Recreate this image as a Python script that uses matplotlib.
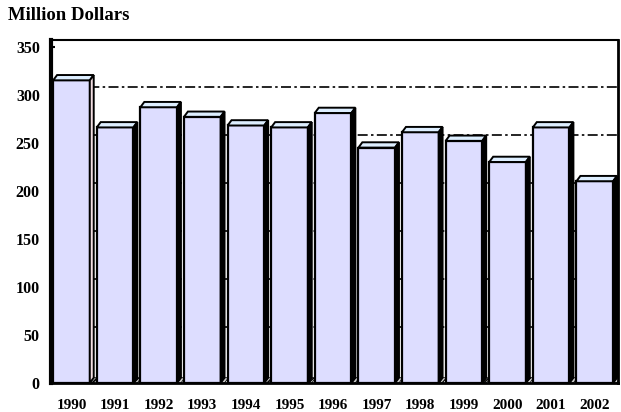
import matplotlib
matplotlib.use("Agg")
import matplotlib.pyplot as plt
import matplotlib.transforms as mtransforms
from matplotlib.patches import Polygon

years = ["1990", "1991", "1992", "1993", "1994", "1995", "1996",
         "1997", "1998", "1999", "2000", "2001", "2002"]
values = [315, 266, 287, 277, 268, 266, 281, 245, 261, 252, 230, 266, 210]
yticks = [0, 50, 100, 150, 200, 250, 300, 350]
ylabel = "Million Dollars"

plt.rcParams['font.family'] = ['Liberation Serif', 'DejaVu Serif']
plt.rcParams['font.weight'] = 'bold'

fig = plt.figure(figsize=(6.21, 4.12), dpi=100)
ax = fig.add_axes([0.0821, 0.0704, 0.9129, 0.8326])

n = len(values)
xs = list(range(n))
width = 0.84
dx = 0.09   # depth in x (data units)
dy = 5.5    # depth in y (data units)

ax.set_xlim(-0.47, n - 1 + 0.53)
ax.set_ylim(0, 357)

# back-wall gridlines (offset upward for 3D depth)
off = mtransforms.offset_copy(ax.get_yaxis_transform(), fig=fig, x=0, y=8, units='dots')
for v in yticks[1:-1]:
    ax.plot([0, 1], [v, v], transform=off, color='black', lw=1.2,
            linestyle=(0, (6, 2, 1.5, 2)), zorder=1, clip_on=False)

bars = ax.bar(xs, values, width=width, color='#DDDDFF', edgecolor='black',
              linewidth=1.6, zorder=3)

for i, (x, v) in enumerate(zip(xs, values)):
    left = x - width / 2
    right = x + width / 2
    top = Polygon([[left, v], [left + dx, v + dy], [right + dx, v + dy], [right, v]],
                  closed=True, facecolor='#DDEEFF', edgecolor='black', lw=1.4, zorder=4)
    ax.add_patch(top)
    side_color = '#F2DDE2' if i == 0 else 'black'
    side = Polygon([[right, 0], [right + dx, dy], [right + dx, v + dy], [right, v]],
                   closed=True, facecolor=side_color, edgecolor='black', lw=1.4, zorder=4)
    ax.add_patch(side)
    floor = Polygon([[right, 0], [right + dx, dy], [right + 2 * dx, dy], [right + dx, 0]],
                    closed=True, facecolor='#CCCCCC', edgecolor='black', lw=0.6,
                    hatch='////', zorder=2)
    ax.add_patch(floor)

ax.set_xticks(xs)
ax.set_xticklabels(years, fontsize=11, fontweight='bold')
ax.set_yticks(yticks)
ax.set_yticklabels([str(t) for t in yticks], fontsize=11.5, fontweight='bold')
ax.tick_params(axis='x', direction='in', length=6, width=1.5, pad=11.5, zorder=5)
ax.tick_params(axis='y', direction='in', length=3, width=1.5, pad=8)

ax.spines['left'].set_linewidth(3)
ax.spines['bottom'].set_linewidth(2)
ax.spines['top'].set_linewidth(1.5)
ax.spines['right'].set_linewidth(2)
for s in ax.spines.values():
    s.set_zorder(6)

fig.text(8 / 621, 1 - 15 / 412, ylabel, fontsize=13.5, fontweight='bold',
         ha='left', va='center')

fig.savefig("out.png", dpi=100)
